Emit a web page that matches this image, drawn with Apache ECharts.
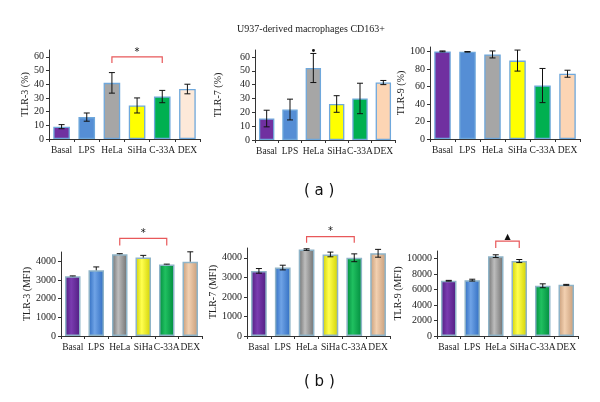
<!DOCTYPE html>
<html><head><meta charset="utf-8">
<script src="https://cdn.jsdelivr.net/npm/echarts@6/dist/echarts.min.js"></script>
<style>html,body{margin:0;padding:0;background:#fff}#c{width:600px;height:402px}</style>
</head><body><div id="c"></div>
<script>
var categories = ['Basal','LPS','HeLa','SiHa','C-33A','DEX'];
var tlr3Pct = [9, 16, 41, 24.5, 31, 36.5];
var tlr3PctErr = [1.5, 3, 7.5, 5.5, 4.5, 3.5];
var tlr7Pct = [15.5, 22, 52, 26, 30, 41.5];
var tlr7PctErr = [6, 7.5, 10.5, 6, 11, 1.5];
var tlr9Pct = [100, 99.5, 96.5, 89.5, 61, 74.5];
var tlr9PctErr = [0.5, 0.3, 4, 12, 19.5, 4];
var tlr3Mfi = [3200, 3520, 4380, 4200, 3830, 3980];
var tlr3MfiErr = [20, 180, 30, 120, 20, 530];
var tlr7Mfi = [3330, 3500, 4420, 4170, 4000, 4230];
var tlr7MfiErr = [120, 120, 40, 120, 200, 200];
var tlr9Mfi = [7150, 7230, 10330, 9700, 6500, 6620];
var tlr9MfiErr = [50, 120, 180, 200, 250, 60];
var yTicks3Pct = [0, 60, 10], yTicks7Pct = [0, 60, 10], yTicks9Pct = [0, 100, 20];
var yTicks3Mfi = [0, 4000, 1000], yTicks7Mfi = [0, 4000, 1000], yTicks9Mfi = [0, 10000, 2000];

var topColors = ['#7030a0','#558ed5','#a6a6a6','#ffff00','#00b050','#fcd5b4'];
var serif = '"Liberation Serif","DejaVu Serif",serif';

function grad(c1, c2) {
  return {type:'linear', x:0, y:0, x2:1, y2:0, colorStops:[
    {offset:0, color:c1},{offset:0.4, color:c2},{offset:1, color:c1}]};
}
var botColors = [grad('#4f1d80','#7a3cb0'), grad('#2f6cc0','#6fa3e6'), grad('#6e6e6e','#bdbdbd'),
  grad('#d0d000','#ffff50'), grad('#008a3d','#20c060'), grad('#c79c78','#f2d0b0')];

var panels = [
  {name:'TLR-3 (%)', v:tlr3Pct, e:tlr3PctErr, t:yTicks3Pct, max:65, g:[49,50,151,89], top:true, c6:'#fde9d9', gap:18,
   bracket:[2,4,60,55.5], mark:'*', markPos:[2,4,63]},
  {name:'TLR-7 (%)', v:tlr7Pct, e:tlr7PctErr, t:yTicks7Pct, max:65, g:[255,50,140,90], top:true, c6:'#fcd5b4', gap:32,
   mark:'•', markPos:[2,2,64]},
  {name:'TLR-9 (%)', v:tlr9Pct, e:tlr9PctErr, t:yTicks9Pct, max:105, g:[430,47,150,92], top:true, c6:'#fcd5b4', gap:17},
  {name:'TLR-3 (MFI)', v:tlr3Mfi, e:tlr3MfiErr, t:yTicks3Mfi, max:4500, g:[61,252,141,84], top:false, gap:28, plusOnly:true,
   bracket:[2,4,5230,4850], mark:'*', markPos:[2,4,5520]},
  {name:'TLR-7 (MFI)', v:tlr7Mfi, e:tlr7MfiErr, t:yTicks7Mfi, max:4500, g:[247,248,143,88], top:false, gap:29,
   bracket:[2,4,5080,4770], mark:'*', markPos:[2,4,5360]},
  {name:'TLR-9 (MFI)', v:tlr9Mfi, e:tlr9MfiErr, t:yTicks9Mfi, max:11000, g:[437,251,141,85], top:false, gap:28,
   bracket:[2,3,12280,11390], mark:'▲', markPos:[2,3,12850]}
];

var option = {animation:false, grid:[], xAxis:[], yAxis:[], series:[],
  title:{text:'U937-derived macrophages CD163+', left:306, top:19, textAlign:'center',
    textStyle:{fontFamily:serif, fontSize:10, fontWeight:'normal', color:'#222'}},
  graphic:[
    {type:'text', left:304, top:184, style:{text:'( a )', font:'15px "DejaVu Sans", sans-serif', fill:'#111'}},
    {type:'text', left:304, top:375, style:{text:'( b )', font:'15px "DejaVu Sans", sans-serif', fill:'#111'}}
  ]};

panels.forEach(function(p, i) {
  option.grid.push({left:p.g[0], top:p.g[1], width:p.g[2], height:p.g[3]});
  option.xAxis.push({type:'category', gridIndex:i, data:categories,
    axisLine:{lineStyle:{color:'#333', width:1}},
    axisTick:{show:true, length:3, lineStyle:{color:'#333'}},
    axisLabel:{fontFamily:serif, fontSize:9.5, color:'#222', margin:6, interval:0}});
  option.yAxis.push({type:'value', gridIndex:i, min:p.t[0], max:p.max, interval:p.t[2],
    name:p.name, nameLocation:'middle', nameGap:p.gap,
    nameTextStyle:{fontFamily:serif, fontSize:10, color:'#222'},
    axisLine:{show:true, lineStyle:{color:'#333'}},
    axisTick:{show:true, length:3, lineStyle:{color:'#333'}},
    axisLabel:{fontFamily:serif, fontSize:10, color:'#222', margin:5, showMaxLabel:false,
      formatter:function(v){ return v > p.t[1] ? '' : v; }},
    splitLine:{show:false}});
  var cols = p.top ? topColors.slice(0,5).concat([p.c6]) : botColors;
  option.series.push({type:'bar', xAxisIndex:i, yAxisIndex:i, barCategoryGap:'34%',
    data:p.v.map(function(v, k){ return {value:v, itemStyle:{color:cols[k]}}; }),
    itemStyle:{borderColor: p.top ? '#6fa8dc' : '#8fb4c8', borderWidth: p.top ? 1.3 : 1.5}});
  option.series.push({type:'custom', xAxisIndex:i, yAxisIndex:i, z:5,
    data:p.v.map(function(v, k){ return [k, v, p.e[k]]; }),
    renderItem:function(params, api){
      var x = api.value(0), v = api.value(1), e = api.value(2);
      var hi = api.coord([x, v + e]), lo = api.coord([x, p.plusOnly ? v : v - e]);
      var w = 3, st = {stroke:'#111', lineWidth:1};
      var ch = [
        {type:'line', shape:{x1:hi[0], y1:hi[1], x2:lo[0], y2:lo[1]}, style:st},
        {type:'line', shape:{x1:hi[0]-w, y1:hi[1], x2:hi[0]+w, y2:hi[1]}, style:st}];
      if (!p.plusOnly) ch.push({type:'line', shape:{x1:lo[0]-w, y1:lo[1], x2:lo[0]+w, y2:lo[1]}, style:st});
      return {type:'group', children:ch};
    }});
  if (p.bracket) {
    option.series.push({type:'custom', xAxisIndex:i, yAxisIndex:i, clip:false, z:6,
      data:[p.bracket],
      renderItem:function(params, api){
        var a = api.value(0), b = api.value(1), t = api.value(2), d = api.value(3);
        var p1 = api.coord([a, d]), p2 = api.coord([a, t]), p3 = api.coord([b, t]), p4 = api.coord([b, d]);
        return {type:'polyline', shape:{points:[p1,p2,p3,p4]}, style:{stroke:'#e8585a', lineWidth:1.2, fill:null}};
      }});
  }
  if (p.mark) {
    option.series.push({type:'custom', xAxisIndex:i, yAxisIndex:i, clip:false, z:6,
      data:[p.markPos],
      renderItem:function(params, api){
        var c1 = api.coord([api.value(0), api.value(2)]), c2 = api.coord([api.value(1), api.value(2)]);
        return {type:'text', x:(c1[0]+c2[0])/2, y:c1[1], style:{text:p.mark, align:'center', verticalAlign:'middle',
          font:(p.mark==='▲' ? '8px' : '10px') + ' "DejaVu Sans", sans-serif', fill:'#111'}};
      }});
  }
});

echarts.init(document.getElementById('c')).setOption(option);
</script>
</body></html>
